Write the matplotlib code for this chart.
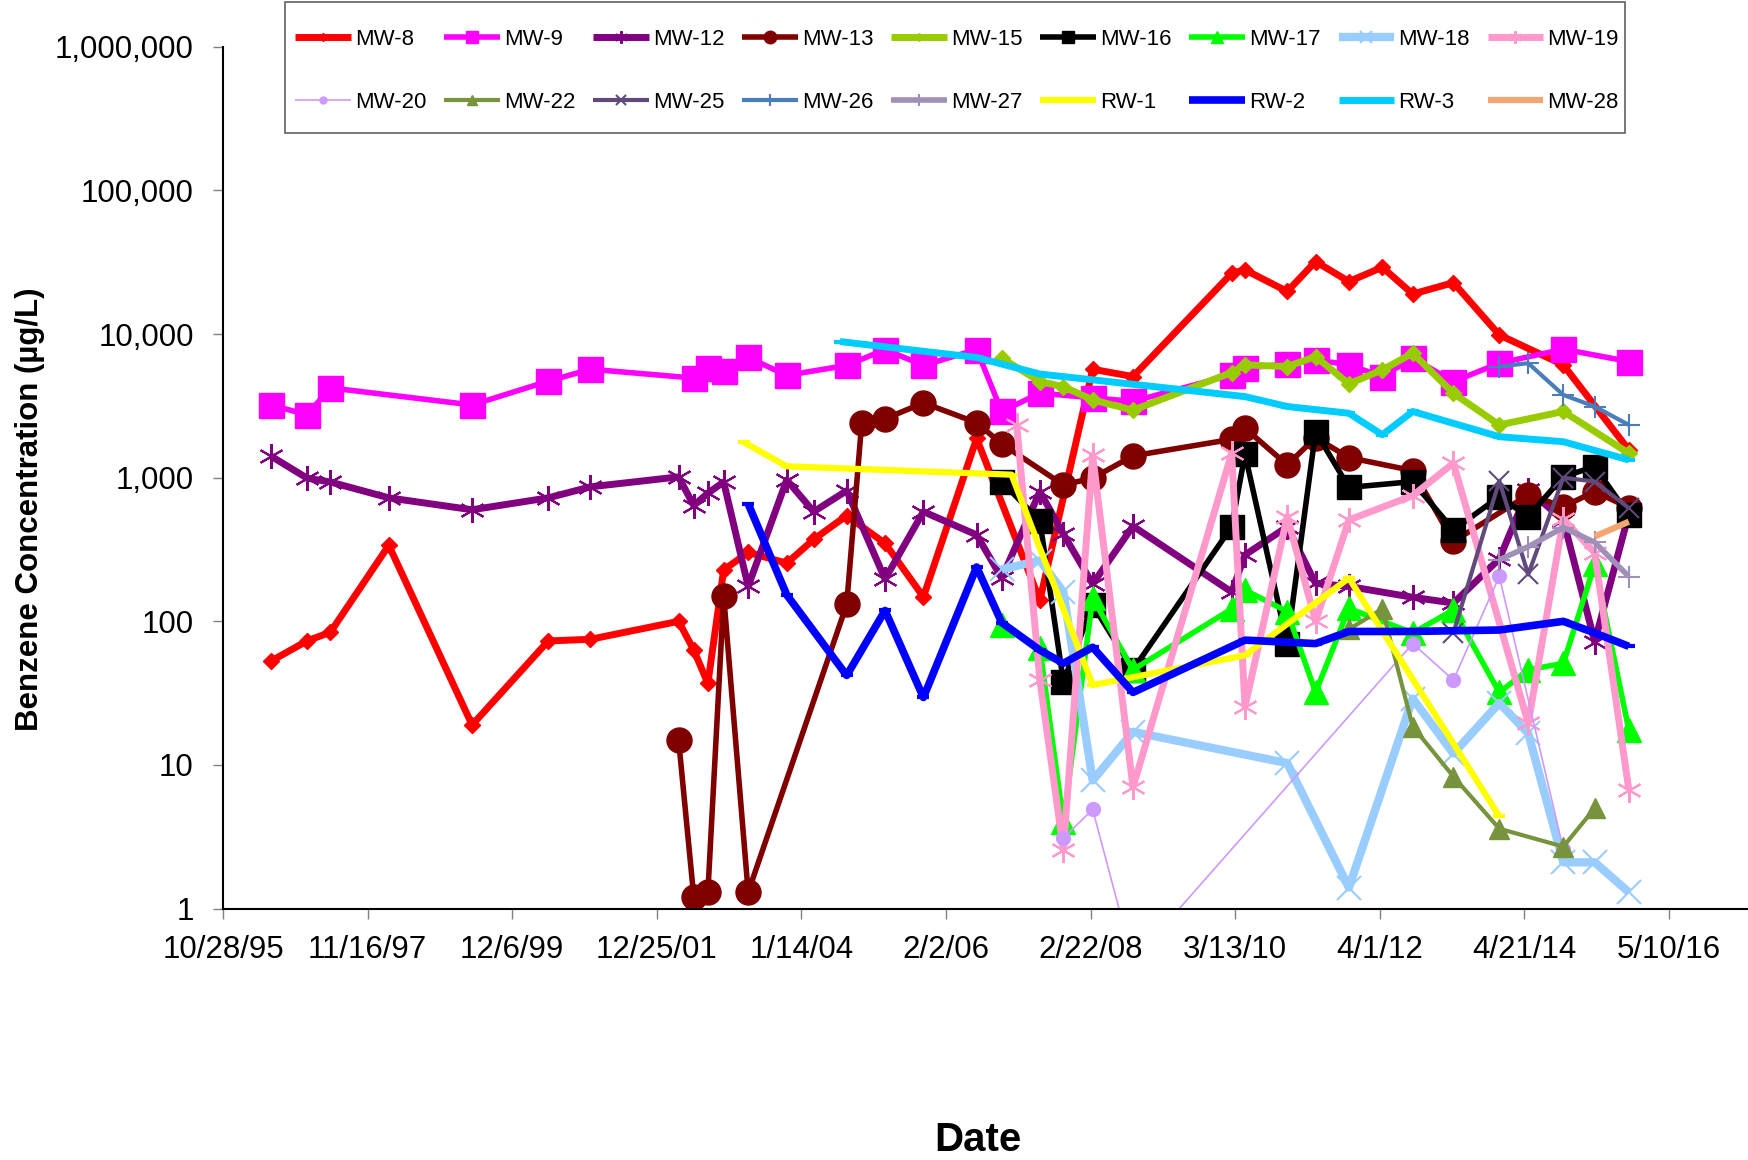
import datetime as dt
import matplotlib
matplotlib.use('Agg')
import matplotlib.pyplot as plt
from matplotlib.patches import Rectangle
from matplotlib.ticker import FixedLocator, FuncFormatter, NullLocator

plt.rcParams['font.family'] = ['Liberation Sans', 'DejaVu Sans']

# sample dates are Excel serial day numbers, concentrations in ug/L
mw8_t = [35250, 35436, 35557, 35860, 36292, 36687, 36906, 37363, 37442, 37515, 37597, 37724,
         37924, 38064, 38235, 38434, 38633, 38909, 39237, 39511, 39720, 40232, 40301, 40520,
         40667, 40840, 41013, 41171, 41382, 41620, 41952, 42292]
mw8_c = [53, 73, 84, 338, 19, 73, 75, 100, 63, 37, 228, 302,
         254, 372, 545, 349, 148, 1875, 140, 5690, 5060, 26500, 28000, 19800,
         32000, 23200, 29200, 19000, 22800, 9870, 6100, 1560]

mw9_t = [35250, 35436, 35557, 36292, 36687, 36906, 37442, 37515, 37597, 37724, 37924, 38235,
         38434, 38633, 38909, 39039, 39237, 39511, 39720, 40232, 40301, 40520, 40667, 40840,
         41013, 41171, 41382, 41620, 41952, 42292]
mw9_c = [3210, 2740, 4220, 3210, 4700, 5690, 4940, 5800, 5500, 6870, 5160, 6050,
         7800, 6050, 7800, 2890, 3880, 3600, 3400, 5200, 5790, 6200, 6610, 6110,
         5060, 6800, 4670, 6270, 7850, 6440]

mw12_t = [35250, 35436, 35557, 35860, 36292, 36687, 36906, 37363, 37442, 37515, 37597, 37724,
          37924, 38064, 38235, 38434, 38633, 38909, 39039, 39237, 39359, 39511, 39720, 40232,
          40301, 40520, 40667, 40840, 41171, 41382, 41620, 41770, 41952, 42115, 42292]
mw12_c = [1410, 993, 933, 724, 598, 724, 864, 1013, 640, 781, 933, 175,
          964, 580, 812, 197, 580, 400, 200, 800, 405, 182, 460, 160,
          290, 455, 184, 175, 147, 134, 272, 822, 508, 72, 560]

mw13_t = [37363, 37442, 37515, 37597, 37724, 38235, 38313, 38434, 38633, 38909, 39039, 39359,
          39511, 39720, 40232, 40301, 40520, 40667, 40840, 41171, 41382, 41770, 41952, 42115,
          42292]
mw13_c = [15, 1.2, 1.3, 150, 1.3, 131, 2415, 2570, 3320, 2415, 1720, 891,
          993, 1420, 1850, 2210, 1228, 1900, 1380, 1120, 360, 759, 629, 800,
          620]

mw15_t = [39039, 39237, 39359, 39511, 39720, 40232, 40301, 40520, 40667, 40840, 41013, 41171,
          41382, 41620, 41952, 42292]
mw15_c = [6800, 4670, 4300, 3480, 2950, 5400, 6100, 5940, 6970, 4500, 5630, 7360,
          3870, 2330, 2890, 1480]

mw16_t = [39039, 39237, 39359, 39511, 39720, 40232, 40301, 40520, 40667, 40840, 41171, 41382,
          41620, 41770, 41952, 42115, 42292]
mw16_c = [940, 500, 38, 130, 46, 456, 1460, 70, 2094, 856, 939, 433,
          738, 536, 1018, 1195, 550]

mw17_t = [39039, 39237, 39359, 39511, 39720, 40232, 40301, 40520, 40667, 40840, 41171, 41382,
          41620, 41770, 41952, 42115, 42292]
mw17_c = [95, 65, 4.0, 145, 46, 122, 165, 117, 32, 123, 83, 120,
          32, 46, 51, 250, 17.5]

mw18_t = [39039, 39237, 39359, 39511, 39720, 40520, 40840, 41171, 41382, 41620, 41770, 41952,
          42115, 42292]
mw18_c = [230, 265, 160, 7.8, 17, 10.3, 1.4, 29, 12, 27, 16.6, 2.1,
          2.1, 1.3]

mw19_t = [39117, 39237, 39359, 39511, 39720, 40232, 40301, 40520, 40667, 40840, 41171, 41382,
          41770, 41952, 42115, 42292]
mw19_c = [2330, 39, 2.56, 1430, 7.0, 1480, 25.5, 536, 100, 508, 750, 1262,
          19.5, 515, 300, 6.7]

mw20_t = [39359, 39511, 39720, 41171, 41382, 41620, 41952]
mw20_c = [3.1, 4.9, 0.43, 70, 39, 206, 2.6]

mw22_t = [40840, 41013, 41171, 41382, 41620, 41952, 42115]
mw22_c = [88, 122, 18.5, 8.3, 3.6, 2.7, 5.0]

mw25_t = [41382, 41620, 41770, 41952, 42115, 42292]
mw25_c = [83, 950, 212, 1000, 940, 614]

mw26_t = [41620, 41770, 41952, 42115, 42292]
mw26_c = [5940, 6270, 3770, 3130, 2330]

mw27_t = [41620, 41770, 41952, 42115, 42292]
mw27_c = [268, 331, 450, 355, 205]

rw1_t = [37700, 37924, 39090, 39511, 40301, 40840, 41620]
rw1_c = [1770, 1200, 1050, 36, 58, 200, 4.4]

rw2_t = [37724, 37924, 38235, 38434, 38633, 38909, 39039, 39237, 39359, 39511, 39720, 40301,
         40667, 40840, 41171, 41382, 41620, 41952, 42115, 42292]
rw2_c = [658, 153, 42, 119, 29.5, 239, 98, 63, 51, 66, 32, 74,
         70, 85, 85, 86, 87, 100, 83, 67]

rw3_t = [38200, 38909, 39237, 40301, 40520, 40840, 41013, 41171, 41620, 41952, 42292]
rw3_c = [8870, 6870, 5270, 3670, 3130, 2810, 1990, 2890, 1930, 1780, 1330]

mw28_t = [42115, 42292]
mw28_c = [390, 494]

STAR = (6, 2, 0)

# label, dates, values, colour, line width, marker, marker size, marker edge width
series = [
    ('MW-8', mw8_t, mw8_c, '#FF0000', 5.0, 'D', 8, 1),
    ('MW-9', mw9_t, mw9_c, '#FF00FF', 4.0, 's', 18, 1),
    ('MW-12', mw12_t, mw12_c, '#800080', 5.0, STAR, 18, 1.5),
    ('MW-13', mw13_t, mw13_c, '#800000', 4.0, 'o', 18, 1),
    ('MW-15', mw15_t, mw15_c, '#99CC00', 5.0, 'D', 8, 1),
    ('MW-16', mw16_t, mw16_c, '#000000', 4.0, 's', 17, 1),
    ('MW-17', mw17_t, mw17_c, '#00FF00', 4.0, '^', 17, 1),
    ('MW-18', mw18_t, mw18_c, '#99CCFF', 6.0, 'x', 17, 1.5),
    ('MW-19', mw19_t, mw19_c, '#FF99CC', 5.0, STAR, 18, 1.5),
    ('MW-20', mw20_t, mw20_c, '#CC99FF', 1.2, 'o', 10, 1),
    ('MW-22', mw22_t, mw22_c, '#77933C', 3.0, '^', 14, 1),
    ('MW-25', mw25_t, mw25_c, '#604A7B', 3.0, 'x', 15, 1.5),
    ('MW-26', mw26_t, mw26_c, '#4A7EBB', 3.0, '+', 16, 1.5),
    ('MW-27', mw27_t, mw27_c, '#A090B8', 4.0, '+', 16, 1.5),
    ('RW-1', rw1_t, rw1_c, '#FFFF00', 4.5, '_', 9, 3),
    ('RW-2', rw2_t, rw2_c, '#0000FF', 5.5, '_', 9, 3),
    ('RW-3', rw3_t, rw3_c, '#00CCFF', 5.0, '_', 9, 3),
    ('MW-28', mw28_t, mw28_c, '#F4A672', 4.5, None, 0, 0),
]


def date_label(serial, pos=None):
    d = dt.date(1899, 12, 30) + dt.timedelta(days=int(round(serial)))
    return f'{d.month}/{d.day}/{d.year % 100:02d}'


W, H = 1748, 1160
fig = plt.figure(figsize=(W / 100, H / 100), dpi=100)
ax = fig.add_axes([223 / W, 251.4 / H, 1525 / W, 861.8 / H])

handles = []
for name, t, c, col, lw, mk, ms, mew in series:
    ln, = ax.plot(t, c, color=col, lw=lw, marker=mk, ms=ms, mew=mew,
                  mfc=col, mec=col, label=name,
                  solid_joinstyle='round', solid_capstyle='butt')
    handles.append(ln)

ax.set_yscale('log')
ax.set_ylim(1, 1e6)
ax.set_xlim(35000, 42910)

yt = [1, 10, 100, 1000, 10000, 100000, 1000000]
ax.yaxis.set_major_locator(FixedLocator(yt))
ax.yaxis.set_minor_locator(NullLocator())
ax.yaxis.set_major_formatter(FuncFormatter(lambda v, p: f'{int(round(v)):,}'))

ax.xaxis.set_major_locator(FixedLocator([35000 + 750 * k for k in range(11)]))
ax.xaxis.set_major_formatter(FuncFormatter(date_label))

for s in ('top', 'right'):
    ax.spines[s].set_visible(False)
for s in ('left', 'bottom'):
    ax.spines[s].set_linewidth(1.5)
    ax.spines[s].set_color('black')

ax.tick_params(axis='y', direction='out', length=7, width=1, color='#808080',
               pad=14, labelsize=22.5)
ax.tick_params(axis='x', direction='out', length=7, width=1, color='#808080',
               pad=12, labelsize=22.5)

ax.set_xlabel('Date', fontsize=29, fontweight='bold')
ax.xaxis.set_label_coords(0.495, -0.246)
ax.set_ylabel('Benzene Concentration (µg/L)', fontsize=22.5, fontweight='bold')
ax.yaxis.set_label_coords(-0.117, 0.463)

# legend box drawn separately so the padding can differ from the entry spacing
fig.add_artist(Rectangle((285 / W, 1 - 132.7 / H), 1340 / W, 130.5 / H,
                         transform=fig.transFigure, facecolor='white',
                         edgecolor='#606060', lw=1.2, zorder=2))

# legend filled row by row, two rows of nine
order = []
for i in range(9):
    order += [handles[i], handles[i + 9]]
leg = fig.legend(order, [h.get_label() for h in order], ncol=9,
                 loc='upper left', bbox_to_anchor=(295.4 / W, 1 - 29 / H),
                 bbox_transform=fig.transFigure, borderaxespad=0, borderpad=0,
                 fontsize=16, frameon=False, markerscale=0.5,
                 handlelength=2.5, handletextpad=0.2, columnspacing=0.79,
                 labelspacing=1.9, numpoints=1)
leg.set_zorder(3)

fig.savefig('out.png', dpi=100)
